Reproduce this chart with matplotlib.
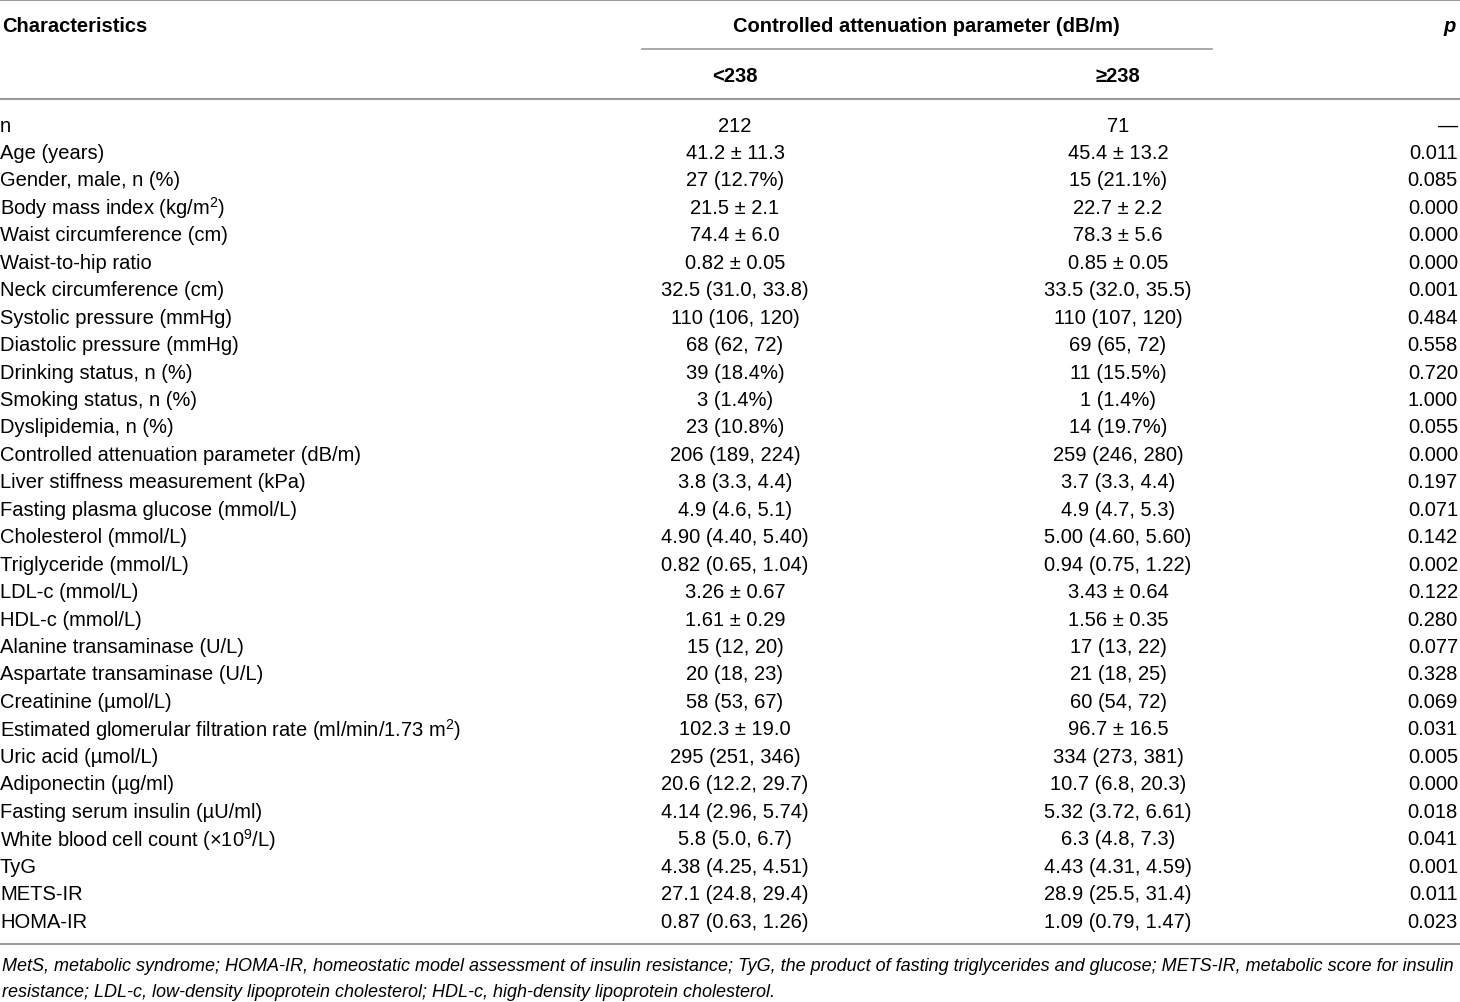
import matplotlib
matplotlib.use("Agg")
import matplotlib.pyplot as plt
from matplotlib import font_manager

fams = [f.name for f in font_manager.fontManager.ttflist]
narrow = 'Liberation Sans Narrow' if 'Liberation Sans Narrow' in fams else 'Liberation Sans'
plt.rcParams['font.family'] = [narrow, 'DejaVu Sans']
plt.rcParams['mathtext.default'] = 'regular'

header_label = "Characteristics"
group_title = "Controlled attenuation parameter (dB/m)"
groups = ["<238", "≥238"]
p_header = "p"

labels = [
    "n", "Age (years)", "Gender, male, n (%)", "Body mass index (kg/m$^{2}$)",
    "Waist circumference (cm)", "Waist-to-hip ratio", "Neck circumference (cm)",
    "Systolic pressure (mmHg)", "Diastolic pressure (mmHg)", "Drinking status, n (%)",
    "Smoking status, n (%)", "Dyslipidemia, n (%)",
    "Controlled attenuation parameter (dB/m)", "Liver stiffness measurement (kPa)",
    "Fasting plasma glucose (mmol/L)", "Cholesterol (mmol/L)", "Triglyceride (mmol/L)",
    "LDL-c (mmol/L)", "HDL-c (mmol/L)", "Alanine transaminase (U/L)",
    "Aspartate transaminase (U/L)", "Creatinine (µmol/L)",
    "Estimated glomerular filtration rate (ml/min/1.73 m$^{2}$)", "Uric acid (µmol/L)",
    "Adiponectin (µg/ml)", "Fasting serum insulin (µU/ml)",
    "White blood cell count (×10$^{9}$/L)", "TyG", "METS-IR", "HOMA-IR",
]
low_cap = [
    "212", "41.2 ± 11.3", "27 (12.7%)", "21.5 ± 2.1", "74.4 ± 6.0", "0.82 ± 0.05",
    "32.5 (31.0, 33.8)", "110 (106, 120)", "68 (62, 72)", "39 (18.4%)", "3 (1.4%)",
    "23 (10.8%)", "206 (189, 224)", "3.8 (3.3, 4.4)", "4.9 (4.6, 5.1)",
    "4.90 (4.40, 5.40)", "0.82 (0.65, 1.04)", "3.26 ± 0.67", "1.61 ± 0.29",
    "15 (12, 20)", "20 (18, 23)", "58 (53, 67)", "102.3 ± 19.0", "295 (251, 346)",
    "20.6 (12.2, 29.7)", "4.14 (2.96, 5.74)", "5.8 (5.0, 6.7)", "4.38 (4.25, 4.51)",
    "27.1 (24.8, 29.4)", "0.87 (0.63, 1.26)",
]
high_cap = [
    "71", "45.4 ± 13.2", "15 (21.1%)", "22.7 ± 2.2", "78.3 ± 5.6", "0.85 ± 0.05",
    "33.5 (32.0, 35.5)", "110 (107, 120)", "69 (65, 72)", "11 (15.5%)", "1 (1.4%)",
    "14 (19.7%)", "259 (246, 280)", "3.7 (3.3, 4.4)", "4.9 (4.7, 5.3)",
    "5.00 (4.60, 5.60)", "0.94 (0.75, 1.22)", "3.43 ± 0.64", "1.56 ± 0.35",
    "17 (13, 22)", "21 (18, 25)", "60 (54, 72)", "96.7 ± 16.5", "334 (273, 381)",
    "10.7 (6.8, 20.3)", "5.32 (3.72, 6.61)", "6.3 (4.8, 7.3)", "4.43 (4.31, 4.59)",
    "28.9 (25.5, 31.4)", "1.09 (0.79, 1.47)",
]
p_values = [
    "—", "0.011", "0.085", "0.000", "0.000", "0.000", "0.001", "0.484", "0.558",
    "0.720", "1.000", "0.055", "0.000", "0.197", "0.071", "0.142", "0.002", "0.122",
    "0.280", "0.077", "0.328", "0.069", "0.031", "0.005", "0.000", "0.018", "0.041",
    "0.001", "0.011", "0.023",
]
footnote = [
    "MetS, metabolic syndrome; HOMA-IR, homeostatic model assessment of insulin resistance; TyG, the product of fasting triglycerides and glucose; METS-IR, metabolic score for insulin",
    "resistance; LDL-c, low-density lipoprotein cholesterol; HDL-c, high-density lipoprotein cholesterol.",
]

W, H = 1460, 1003
fig = plt.figure(figsize=(W / 100, H / 100), dpi=100)
ax = fig.add_axes([0, 0, 1, 1])
ax.set_xlim(0, W)
ax.set_ylim(H, 0)
ax.axis('off')

fs = 14.5
col_low, col_high, col_p = 735, 1118, 1458
line_c = '#9a9a9a'

ax.plot([0, W], [1, 1], color=line_c, lw=1.5)
ax.text(2, 26, header_label, fontsize=fs, fontweight='bold', va='center', ha='left')
ax.text(926, 26, group_title, fontsize=fs, fontweight='bold', va='center', ha='center')
ax.text(col_p - 2, 26, p_header, fontsize=fs, fontweight='bold', style='italic', va='center', ha='right')
ax.plot([642, 1212], [50, 50], color=line_c, lw=1.2)
ax.text(col_low, 76, groups[0], fontsize=fs, fontweight='bold', va='center', ha='center')
ax.text(col_high, 76, groups[1], fontsize=fs, fontweight='bold', va='center', ha='center')
ax.plot([0, W], [100, 100], color=line_c, lw=1.5)

y0, dy = 126, 27.45
for i, (lab, a, b, p) in enumerate(zip(labels, low_cap, high_cap, p_values)):
    y = y0 + i * dy
    ax.text(0, y, lab, fontsize=fs, va='center', ha='left')
    ax.text(col_low, y, a, fontsize=fs, va='center', ha='center')
    ax.text(col_high, y, b, fontsize=fs, va='center', ha='center')
    ax.text(col_p, y, p, fontsize=fs, va='center', ha='right')

ax.plot([0, W], [945, 945], color=line_c, lw=1.5)

# footnote: shrink font so the first line fits the table width (reference uses a condensed face)
renderer = fig.canvas.get_renderer()
probe = ax.text(0, 0, footnote[0], fontsize=fs, style='italic')
wpx = probe.get_window_extent(renderer).width
probe.remove()
fs_note = fs * min(1.0, 1454.0 / wpx)
for j, line in enumerate(footnote):
    ax.text(2, 967 + j * 26, line, fontsize=fs_note, style='italic', va='center', ha='left')

fig.savefig("out.png", dpi=100)
